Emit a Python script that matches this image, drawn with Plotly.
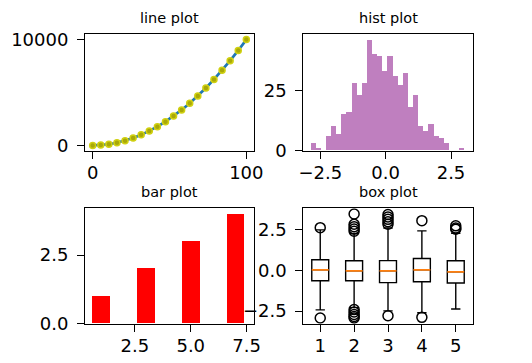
import plotly.graph_objects as go

# ---------------- data ----------------
line_x = [0, 5.26, 10.53, 15.79, 21.05, 26.32, 31.58, 36.84, 42.11, 47.37,
          52.63, 57.89, 63.16, 68.42, 73.68, 78.95, 84.21, 89.47, 94.74, 100]
line_y = [0, 28, 111, 249, 443, 693, 997, 1357, 1773, 2244,
          2770, 3352, 3989, 4681, 5429, 6233, 7091, 8006, 8975, 10000]

hist_start = -2.86
hist_width = 0.196
hist_counts = [3, 1, 0, 6, 10, 7, 15, 16, 28, 23, 28, 46, 40, 39, 33,
               39, 31, 27, 32, 18, 23, 10, 8, 11, 6, 5, 3, 0, 0, 1]

bar_x = [1, 3, 5, 7]
bar_y = [1, 2, 3, 4]

box_pos = [1, 2, 3, 4, 5]
box_q1 = [-0.63, -0.63, -0.74, -0.69, -0.77]
box_med = [0.04, -0.02, -0.02, 0.04, -0.08]
box_q3 = [0.66, 0.60, 0.61, 0.74, 0.60]
box_lo = [-2.42, -2.28, -2.48, -2.60, -2.37]
box_hi = [2.50, 2.28, 2.62, 2.44, 2.29]
box_outliers = [
    [2.64, -2.92],
    [3.48, 2.85, 2.70, 2.55, 2.42, -2.40, -2.55, -2.70, -2.82, -2.92],
    [3.45, 3.30, 3.15, 3.00, 2.85, -2.78],
    [3.07, -2.88],
    [2.75, 2.62, 2.54],
]

# ---------------- figure ----------------
W, H = 532, 363
FONT = "DejaVu Sans"

def px_x(a, b):
    return [a / W, b / W]

def px_y(top, bottom):
    return [1 - bottom / H, 1 - top / H]

dom_x_left = px_x(85, 254)
dom_x_right = px_x(303.3, 472.7)
dom_y_top = px_y(34.3, 150.7)
dom_y_bot = px_y(208.3, 323.7)

fig = go.Figure()

# line plot
fig.add_trace(go.Scatter(x=line_x, y=line_y, mode="lines",
                         line=dict(color="#1f77b4", width=2.7),
                         xaxis="x", yaxis="y", showlegend=False))
fig.add_trace(go.Scatter(x=line_x, y=line_y, mode="markers",
                         marker=dict(size=6, color="#a8a808",
                                     line=dict(color="#d0d010", width=1.5)),
                         xaxis="x", yaxis="y", showlegend=False))

# histogram (drawn from counts)
hist_centers = [hist_start + hist_width * (i + 0.5) for i in range(len(hist_counts))]
fig.add_trace(go.Bar(x=hist_centers, y=hist_counts, width=hist_width,
                     marker=dict(color="purple", opacity=0.5, line=dict(width=0)),
                     xaxis="x2", yaxis="y2", showlegend=False))

# bar plot
fig.add_trace(go.Bar(x=bar_x, y=bar_y, width=0.8,
                     marker=dict(color="red", line=dict(width=0)),
                     xaxis="x3", yaxis="y3", showlegend=False))

# box plot
fig.add_trace(go.Box(x=box_pos, q1=box_q1, median=box_med, q3=box_q3,
                     lowerfence=box_lo, upperfence=box_hi,
                     width=0.5, whiskerwidth=0.55, boxpoints=False,
                     fillcolor="white", line=dict(color="black", width=1.4),
                     xaxis="x4", yaxis="y4", showlegend=False))
med_x, med_y = [], []
for p, m in zip(box_pos, box_med):
    med_x += [p - 0.25, p + 0.25, None]
    med_y += [m, m, None]
fig.add_trace(go.Scatter(x=med_x, y=med_y, mode="lines",
                         line=dict(color="#ff7f0e", width=1.6),
                         xaxis="x4", yaxis="y4", showlegend=False))
out_x, out_y = [], []
for p, outs in zip(box_pos, box_outliers):
    for o in outs:
        out_x.append(p)
        out_y.append(o)
fig.add_trace(go.Scatter(x=out_x, y=out_y, mode="markers",
                         marker=dict(symbol="circle-open", size=10, color="black",
                                     line=dict(width=1.5)),
                         xaxis="x4", yaxis="y4", showlegend=False))

axis_common = dict(showline=True, mirror=True, linecolor="black", linewidth=1,
                   ticks="outside", ticklen=7, tickwidth=1, tickcolor="black",
                   showgrid=False, zeroline=False, fixedrange=True, automargin=False,
                   tickfont=dict(family=FONT, size=18, color="black"))
xcommon = dict(axis_common, ticklabelstandoff=-1)
ycommon = dict(axis_common, ticklabelstandoff=5)

fig.update_layout(
    width=W, height=H,
    margin=dict(l=0, r=0, t=0, b=0, autoexpand=False),
    paper_bgcolor="white", plot_bgcolor="white",
    bargap=0,
    xaxis=dict(domain=dom_x_left, anchor="y", range=[-5, 105],
               tickvals=[0, 100], ticktext=["0", "100"], **xcommon),
    yaxis=dict(domain=dom_y_top, anchor="x", range=[-500, 10500],
               tickvals=[0, 10000], ticktext=["0", "10000"], **ycommon),
    xaxis2=dict(domain=dom_x_right, anchor="y2", range=[-3.15, 3.33],
                tickvals=[-2.5, 0, 2.5], ticktext=["\u22122.5", "0.0", "2.5"], **xcommon),
    yaxis2=dict(domain=dom_y_top, anchor="x2", range=[0, 48.3],
                tickvals=[0, 25], ticktext=["0", "25"], **ycommon),
    xaxis3=dict(domain=dom_x_left, anchor="y3", range=[0.27, 7.83],
                tickvals=[2.5, 5, 7.5], ticktext=["2.5", "5.0", "7.5"], **xcommon),
    yaxis3=dict(domain=dom_y_bot, anchor="x3", range=[0, 4.2],
                tickvals=[0, 2.5], ticktext=["0.0", "2.5"], **ycommon),
    xaxis4=dict(domain=dom_x_right, anchor="y4", range=[0.5, 5.5],
                tickvals=box_pos, ticktext=[str(p) for p in box_pos], **xcommon),
    yaxis4=dict(domain=dom_y_bot, anchor="x4", range=[-3.27, 3.83],
                tickvals=[-2.5, 0, 2.5], ticktext=["\u22122.5", "0.0", "2.5"], **ycommon),
)

titles = [("line plot", dom_x_left, dom_y_top),
          ("hist plot", dom_x_right, dom_y_top),
          ("bar plot", dom_x_left, dom_y_bot),
          ("box plot", dom_x_right, dom_y_bot)]
for text, dx, dy in titles:
    fig.add_annotation(text=text, x=(dx[0] + dx[1]) / 2, y=dy[1],
                       xref="paper", yref="paper", xanchor="center", yanchor="bottom",
                       yshift=6, showarrow=False,
                       font=dict(family=FONT, size=14.5, color="black"))

fig.write_html("out.html", config={"displayModeBar": False},
               post_script="document.body.style.margin='0px';document.body.style.overflow='hidden';")
